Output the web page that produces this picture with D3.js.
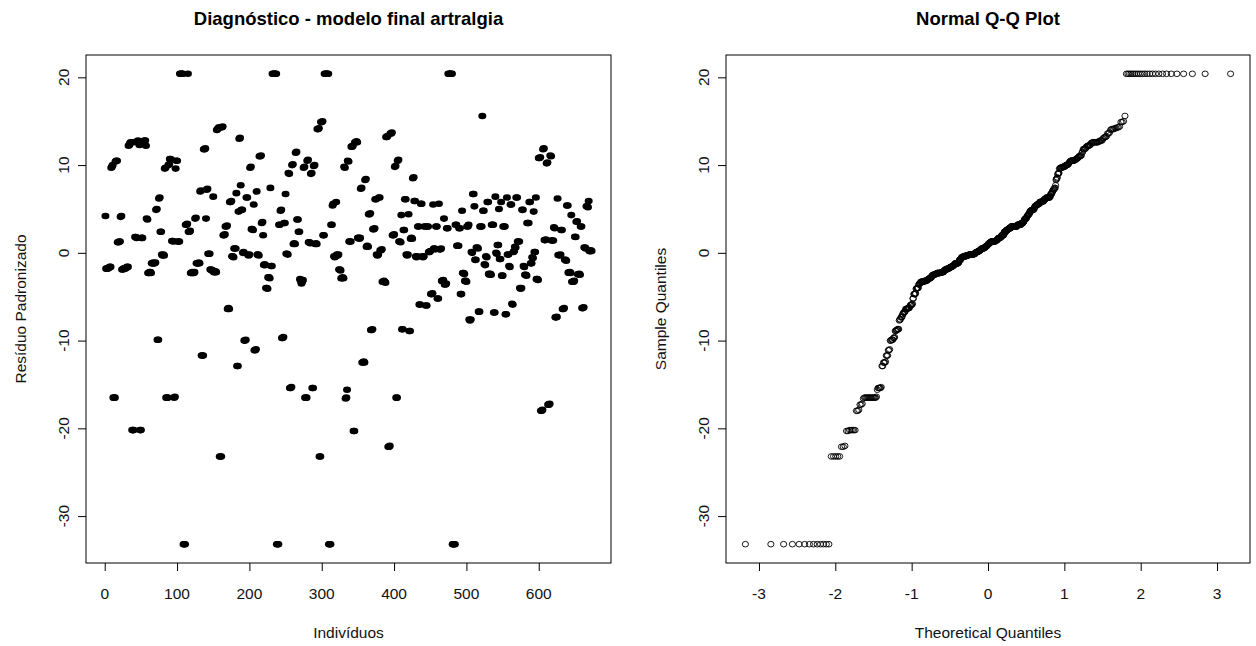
<!DOCTYPE html>
<html><head><meta charset="utf-8">
<script src="https://cdn.jsdelivr.net/npm/d3@7"></script>
<style>
body{margin:0;background:#fff}
text{font-family:"Liberation Sans",Arial,sans-serif}
</style>
</head><body>
<svg id="c" width="1256" height="646"></svg>
<script>
// Standardized residuals, one per individual (index = position + 1)
const residuos = [
4.2,-1.8,-1.8,-1.8,-1.7,-1.7,-1.6,-1.6,9.7,9.8,10.0,-16.5,-16.5,-16.5,10.4,10.5,10.5,1.2,1.2,1.3,1.3,4.1,4.2,-1.9,-1.9,-1.8,-1.8,-1.8,-1.7,-1.7,-1.6,-1.6,12.2,12.3,12.5,12.6,12.6,-20.2,-20.2,-20.2,12.6,1.8,1.8,1.7,12.7,12.8,12.6,12.3,-20.2,-20.2,
1.7,1.7,12.5,12.6,12.8,12.8,12.2,3.9,3.8,-2.3,-2.3,-2.2,-2.2,-2.3,-1.2,-1.2,-1.1,-1.2,-1.2,-1.1,4.9,5.0,-9.9,-9.9,6.2,6.3,2.4,2.4,-0.2,-0.3,-0.2,-0.3,9.6,9.7,-16.5,-16.5,-16.5,10.0,10.1,10.7,10.7,10.6,1.35,1.35,1.3,-16.5,-16.4,9.6,10.5,10.5,
1.3,1.3,1.3,20.4,20.4,20.4,20.4,20.4,-33.2,-33.2,-33.2,3.2,3.2,3.3,20.4,2.4,2.4,2.5,-2.3,-2.3,-2.2,-2.3,-2.3,-2.2,3.9,4.0,-1.2,-1.2,-1.2,-1.1,-1.2,7.0,7.1,-11.7,-11.7,-11.7,11.8,11.8,11.9,3.9,7.2,7.3,-0.1,-0.1,-0.1,-1.9,-1.9,-2.0,-2.0,6.4,
-2.2,-2.2,-2.1,-2.2,14.0,14.1,14.2,14.3,-23.2,-23.2,-23.2,14.3,14.4,2.0,2.0,2.1,3.0,3.0,3.1,-6.4,-6.3,-6.4,5.8,5.8,5.9,-0.4,-0.4,-0.5,0.5,0.5,0.5,6.8,-12.9,-12.9,4.7,13.0,13.1,7.7,4.9,4.9,0.0,0.1,-10.0,-10.0,-9.9,6.3,6.3,-0.2,-0.3,-0.2,
9.7,9.8,2.7,2.7,2.6,5.5,-11.1,-11.1,-11.0,7.0,-0.2,-0.2,-0.3,11.0,11.0,11.1,3.4,3.5,2.0,-1.4,-1.3,-1.4,-4.0,-4.0,-4.1,-2.8,-2.8,-2.9,7.4,-1.5,-1.5,20.4,20.4,20.4,20.4,20.4,20.4,-33.2,-33.2,-33.2,3.2,3.2,4.8,4.9,-9.7,-9.7,-9.6,3.4,3.4,6.7,
-0.1,-0.1,-0.2,9.1,9.0,-15.4,-15.4,-15.3,10.0,10.1,1.0,1.1,1.0,11.4,11.5,3.8,3.8,2.4,2.4,-3.0,-3.2,-3.5,-3.3,-3.1,9.7,9.8,-16.5,-16.5,-16.5,10.5,10.6,1.2,1.2,1.1,9.0,9.1,-15.4,-15.4,9.9,10.0,1.0,1.1,1.0,14.1,14.1,14.2,-23.2,-23.2,14.9,14.9,
15.0,2.0,2.0,20.4,20.4,20.4,20.4,20.4,20.4,-33.2,-33.2,-33.2,3.2,3.2,5.4,5.6,-0.4,-0.5,-0.4,5.8,-0.2,-0.3,-0.2,-1.9,-1.9,-2.0,-2.9,-2.9,-2.8,-2.9,9.8,9.7,-16.6,-16.5,-15.6,10.5,10.4,1.3,1.3,1.3,12.1,12.1,12.2,-20.3,-20.3,12.6,12.6,12.7,12.6,1.7,
1.7,1.6,1.7,7.3,7.4,-12.5,-12.5,-12.4,-12.5,8.3,8.4,0.7,0.8,0.7,4.4,4.4,4.5,-8.8,-8.8,-8.7,2.7,2.7,2.8,6.1,6.1,-0.2,-0.3,-0.2,6.3,6.3,0.3,0.3,0.4,-3.3,-3.3,-3.2,-3.3,-3.4,13.2,13.2,13.3,-22.1,-22.1,-22.0,13.6,13.6,13.7,2.0,2.0,2.1,
9.8,9.9,-16.5,-16.5,10.5,10.6,1.3,1.3,1.2,4.3,-8.7,-8.7,2.6,2.6,6.1,6.1,-0.2,-0.3,-0.2,4.4,-8.9,-8.9,1.6,1.7,1.6,8.5,8.6,5.9,5.9,-0.4,-0.5,-0.4,3.0,3.0,-5.9,-5.9,5.6,5.6,-0.4,-0.5,-0.4,3.0,3.0,-6.0,-6.0,3.0,3.0,0.1,0.1,0.2,
-4.7,-4.7,-4.6,5.5,0.5,0.5,0.4,3.0,3.0,-5.2,-5.2,5.6,0.4,0.4,0.5,-3.2,-3.2,-3.1,3.9,-3.6,-3.6,-3.5,2.8,2.8,20.4,20.4,20.4,20.4,20.4,20.4,-33.2,-33.2,-33.2,-33.2,3.2,3.2,0.8,0.8,0.8,2.8,2.8,-4.7,-4.7,4.8,-2.3,-2.3,-2.4,-3.2,-3.2,-3.3,
3.0,3.0,3.2,-7.6,-7.7,-7.6,0.1,0.0,6.7,6.7,5.3,-0.8,-0.8,0.6,0.6,0.5,-6.7,-6.7,3.0,3.0,3.0,15.6,4.8,4.8,-1.3,-1.4,-0.4,-0.5,5.8,5.8,-2.4,-2.5,-2.4,-2.5,3.2,3.2,3.2,-6.8,-6.8,6.4,0.0,-0.1,0.9,0.9,5.0,-0.7,-0.7,5.8,-2.6,-2.6,
3.0,3.0,3.0,-7.0,-7.0,6.3,-0.2,-0.2,-1.5,-1.6,5.5,5.5,-5.8,-5.9,0.1,0.2,0.7,0.6,6.3,6.3,1.3,1.3,1.3,-4.0,-4.1,-4.0,4.9,4.9,-1.5,-1.6,-2.5,-2.5,-2.6,3.4,3.4,3.4,5.8,5.8,-1.2,-1.2,-0.5,-0.6,4.7,0.1,0.1,6.3,-3.0,-3.0,-3.1,10.8,
10.8,10.9,-18.0,-18.0,-17.9,11.8,11.9,1.45,1.45,1.5,10.2,10.3,-17.3,-17.3,-17.2,11.1,11.0,1.4,1.4,1.4,2.9,2.8,-7.35,-7.35,-7.3,6.2,-0.25,-0.25,-0.3,-0.2,2.6,2.6,-6.4,-6.4,-6.3,-0.8,-0.8,-0.9,5.4,5.4,-2.26,-2.26,-2.2,-2.3,4.3,-3.3,-3.3,-3.3,-3.2,1.84,1.8,3.55,3.6,-2.45,-2.45,-2.4,-2.5,3.0,3.0,-6.3,-6.3,-6.2,0.6,0.6,0.5,5.3,5.3,5.2,5.9,0.2,0.2,0.3,0.2
];
const xTicksLeft = [0, 100, 200, 300, 400, 500, 600];
const yTicks = [-30, -20, -10, 0, 10, 20];
const xTicksRight = [-3, -2, -1, 0, 1, 2, 3];
const titleLeft = "Diagnóstico - modelo final artralgia";
const titleRight = "Normal Q-Q Plot";
const xLabelLeft = "Indivíduos";
const yLabelLeft = "Resíduo Padronizado";
const xLabelRight = "Theoretical Quantiles";
const yLabelRight = "Sample Quantiles";

// inverse standard normal CDF (Acklam)
function qnorm(p){
  const a=[-3.969683028665376e+01,2.209460984245205e+02,-2.759285104469687e+02,1.383577518672690e+02,-3.066479806614716e+01,2.506628277459239e+00];
  const b=[-5.447609879822406e+01,1.615858368580409e+02,-1.556989798598866e+02,6.680131188771972e+01,-1.328068155288572e+01];
  const c=[-7.784894002430293e-03,-3.223964580411365e-01,-2.400758277161838e+00,-2.549732539343734e+00,4.374664141464968e+00,2.938163982698783e+00];
  const d=[7.784695709041462e-03,3.224671290700398e-01,2.445134137142996e+00,3.754408661907416e+00];
  const pl=0.02425;
  if(p<pl){const q=Math.sqrt(-2*Math.log(p));return (((((c[0]*q+c[1])*q+c[2])*q+c[3])*q+c[4])*q+c[5])/((((d[0]*q+d[1])*q+d[2])*q+d[3])*q+1);}
  if(p>1-pl){const q=Math.sqrt(-2*Math.log(1-p));return -(((((c[0]*q+c[1])*q+c[2])*q+c[3])*q+c[4])*q+c[5])/((((d[0]*q+d[1])*q+d[2])*q+d[3])*q+1);}
  const q=p-0.5,r=q*q;
  return (((((a[0]*r+a[1])*r+a[2])*r+a[3])*r+a[4])*r+a[5])*q/(((((b[0]*r+b[1])*r+b[2])*r+b[3])*r+b[4])*r+1);
}
function rPad(e){const d=(e[1]-e[0])*0.04;return [e[0]-d,e[1]+d];}

const n = residuos.length;
const pts = residuos.map((v,i)=>({i:i+1,v}));
const sorted = residuos.slice().sort(d3.ascending);
const qq = sorted.map((v,i)=>({t:qnorm((i+1-0.5)/n),v}));

const svg = d3.select("#c");
const L = {x0:86,x1:611,y0:55,y1:563};
const R = {x0:726,x1:1250,y0:55,y1:563};

const xL = d3.scaleLinear().domain(rPad([1,n])).range([L.x0,L.x1]);
const yL = d3.scaleLinear().domain(rPad(d3.extent(residuos))).range([L.y1,L.y0]);
const xR = d3.scaleLinear().domain(rPad(d3.extent(qq,d=>d.t))).range([R.x0,R.x1]);
const yR = d3.scaleLinear().domain(rPad(d3.extent(sorted))).range([R.y1,R.y0]);

const TICK=8, FS=15.5, COL="#111";
const fmt = d=>d<0?"-"+Math.abs(d):String(d);
function frame(P,xs,ys,xt,title,xlab,ylab){
  const g = svg.append("g");
  g.append("rect").attr("x",P.x0).attr("y",P.y0).attr("width",P.x1-P.x0).attr("height",P.y1-P.y0)
   .attr("fill","none").attr("stroke","#000").attr("stroke-width",1);
  const ax = g.append("g").attr("transform",`translate(0,${P.y1})`)
    .call(d3.axisBottom(xs).tickValues(xt).tickSize(TICK).tickFormat(""));
  ax.select(".domain").remove();
  ax.selectAll("line").attr("stroke","#000");
  g.selectAll(".xlab").data(xt).enter().append("text")
    .attr("x",d=>xs(d)).attr("y",P.y1+30).attr("text-anchor","middle").attr("dominant-baseline","central")
    .attr("font-size",FS).attr("fill",COL).text(fmt);
  const ay = g.append("g").attr("transform",`translate(${P.x0},0)`)
    .call(d3.axisLeft(ys).tickValues(yTicks).tickSize(TICK).tickFormat(""));
  ay.select(".domain").remove();
  ay.selectAll("line").attr("stroke","#000");
  g.selectAll(".ylab").data(yTicks).enter().append("text")
    .attr("transform",d=>`translate(${P.x0-23},${ys(d)}) rotate(-90)`)
    .attr("text-anchor","middle").attr("dominant-baseline","central")
    .attr("font-size",FS).attr("fill",COL).text(fmt);
  g.append("text").attr("x",(P.x0+P.x1)/2).attr("y",18).attr("text-anchor","middle")
    .attr("dominant-baseline","central").attr("font-weight","bold").attr("font-size",18.5).attr("fill","#000").text(title);
  g.append("text").attr("x",(P.x0+P.x1)/2).attr("y",632).attr("text-anchor","middle")
    .attr("dominant-baseline","central").attr("font-size",FS).attr("fill",COL).text(xlab);
  g.append("text").attr("transform",`translate(${P.x0-66},${(P.y0+P.y1)/2}) rotate(-90)`)
    .attr("text-anchor","middle").attr("dominant-baseline","central").attr("font-size",FS).attr("fill",COL).text(ylab);
}
frame(L,xL,yL,xTicksLeft,titleLeft,xLabelLeft,yLabelLeft);
frame(R,xR,yR,xTicksRight,titleRight,xLabelRight,yLabelRight);

svg.append("g").selectAll("ellipse").data(pts).enter().append("ellipse")
  .attr("cx",d=>xL(d.i)).attr("cy",d=>yL(d.v)).attr("rx",4.0).attr("ry",3.3).attr("fill","#000");

svg.append("g").selectAll("ellipse").data(qq).enter().append("ellipse")
  .attr("cx",d=>xR(d.t)).attr("cy",d=>yR(d.v)).attr("rx",3.1).attr("ry",2.8)
  .attr("fill","none").attr("stroke","#000").attr("stroke-width",0.9);
</script>
</body></html>
